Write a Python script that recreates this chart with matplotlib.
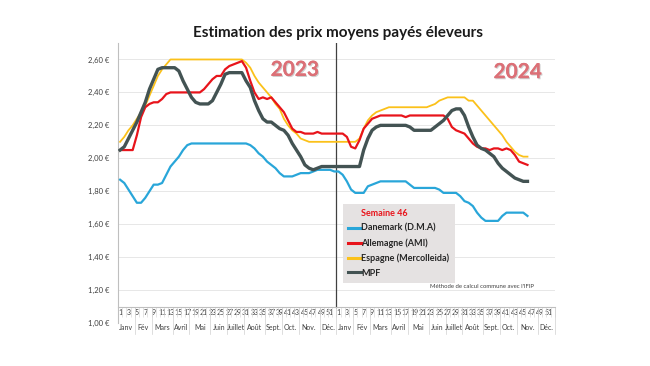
import numpy as np
import matplotlib
matplotlib.use('Agg')
import matplotlib.pyplot as plt
import matplotlib.patheffects as pe
from matplotlib.lines import Line2D

plt.rcParams['font.family'] = ['Lato', 'DejaVu Sans']

# prix hebdo (EUR/kg), 2023 complet puis 2024 jusqu'a la semaine 46
dk_2023 = [1.87, 1.85, 1.81, 1.77, 1.73, 1.73, 1.76, 1.80, 1.84, 1.84,
           1.85, 1.90, 1.95, 1.98, 2.01, 2.05, 2.08, 2.09, 2.09, 2.09,
           2.09, 2.09, 2.09, 2.09, 2.09, 2.09, 2.09, 2.09, 2.09, 2.09,
           2.09, 2.08, 2.06, 2.03, 2.01, 1.98, 1.96, 1.94, 1.91, 1.89,
           1.89, 1.89, 1.90, 1.91, 1.91, 1.91, 1.92, 1.93, 1.93, 1.93,
           1.93, 1.92]
dk_2024 = [1.92, 1.90, 1.86, 1.81, 1.79, 1.79, 1.79, 1.83, 1.84, 1.85,
           1.86, 1.86, 1.86, 1.86, 1.86, 1.86, 1.86, 1.84, 1.82, 1.82,
           1.82, 1.82, 1.82, 1.82, 1.81, 1.79, 1.79, 1.79, 1.79, 1.77,
           1.74, 1.73, 1.71, 1.67, 1.64, 1.62, 1.62, 1.62, 1.62, 1.65,
           1.67, 1.67, 1.67, 1.67, 1.67, 1.65]

de_2023 = [2.05, 2.05, 2.05, 2.05, 2.14, 2.25, 2.31, 2.33, 2.34, 2.34,
           2.36, 2.39, 2.40, 2.40, 2.40, 2.40, 2.40, 2.40, 2.40, 2.40,
           2.42, 2.45, 2.48, 2.50, 2.50, 2.54, 2.56, 2.57, 2.58, 2.59,
           2.55, 2.47, 2.40, 2.36, 2.37, 2.36, 2.37, 2.34, 2.31, 2.28,
           2.23, 2.18, 2.16, 2.16, 2.15, 2.15, 2.15, 2.16, 2.15, 2.15,
           2.15, 2.15]
de_2024 = [2.15, 2.15, 2.13, 2.07, 2.06, 2.11, 2.18, 2.21, 2.24, 2.25,
           2.26, 2.26, 2.26, 2.26, 2.26, 2.26, 2.25, 2.26, 2.26, 2.26,
           2.26, 2.26, 2.26, 2.26, 2.26, 2.26, 2.24, 2.19, 2.17, 2.16,
           2.15, 2.12, 2.09, 2.07, 2.06, 2.06, 2.05, 2.06, 2.06, 2.05,
           2.06, 2.05, 2.02, 1.98, 1.97, 1.96]

es_2023 = [2.10, 2.13, 2.17, 2.20, 2.24, 2.28, 2.32, 2.38, 2.44, 2.50,
           2.54, 2.57, 2.60, 2.60, 2.60, 2.60, 2.60, 2.60, 2.60, 2.60,
           2.60, 2.60, 2.60, 2.60, 2.60, 2.60, 2.60, 2.60, 2.60, 2.60,
           2.58, 2.55, 2.50, 2.46, 2.43, 2.40, 2.37, 2.33, 2.30, 2.24,
           2.20, 2.17, 2.15, 2.12, 2.11, 2.10, 2.10, 2.10, 2.10, 2.10,
           2.10, 2.10]
es_2024 = [2.10, 2.10, 2.10, 2.10, 2.10, 2.12, 2.18, 2.23, 2.26, 2.28,
           2.29, 2.30, 2.31, 2.31, 2.31, 2.31, 2.31, 2.31, 2.31, 2.31,
           2.31, 2.31, 2.32, 2.33, 2.35, 2.36, 2.37, 2.37, 2.37, 2.37,
           2.37, 2.35, 2.35, 2.32, 2.29, 2.26, 2.23, 2.20, 2.17, 2.14,
           2.10, 2.07, 2.04, 2.02, 2.01, 2.01]

mpf_2023 = [2.05, 2.07, 2.12, 2.17, 2.22, 2.28, 2.34, 2.42, 2.48, 2.54,
            2.55, 2.55, 2.55, 2.55, 2.53, 2.47, 2.42, 2.37, 2.34, 2.33,
            2.33, 2.33, 2.35, 2.40, 2.45, 2.51, 2.52, 2.52, 2.52, 2.52,
            2.47, 2.43, 2.35, 2.29, 2.24, 2.22, 2.22, 2.20, 2.18, 2.17,
            2.14, 2.09, 2.05, 2.01, 1.96, 1.94, 1.93, 1.94, 1.95, 1.95,
            1.95, 1.95]
mpf_2024 = [1.95, 1.95, 1.95, 1.95, 1.95, 1.95, 2.05, 2.12, 2.17, 2.19,
            2.20, 2.20, 2.20, 2.20, 2.20, 2.20, 2.20, 2.19, 2.17, 2.17,
            2.17, 2.17, 2.17, 2.19, 2.21, 2.23, 2.26, 2.29, 2.30, 2.30,
            2.26, 2.19, 2.13, 2.08, 2.06, 2.05, 2.03, 2.01, 1.97, 1.94,
            1.92, 1.90, 1.88, 1.87, 1.86, 1.86]

months = ['Janv', 'Fév', 'Mars', 'Avril', 'Mai', 'Juin', 'Juillet', 'Août',
          'Sept.', 'Oct.', 'Nov.', 'Déc.']
month_weeks = [4, 4, 5, 4, 5, 4, 4, 5, 4, 4, 5, 4]
week_labels = list(range(1, 52, 2))
n_weeks = 52

c_dk = '#29a6d9'
c_de = '#e8141b'
c_es = '#fbc11a'
c_mpf = '#435353'

dk = dk_2023 + dk_2024
de = de_2023 + de_2024
es = es_2023 + es_2024
mpf = mpf_2023 + mpf_2024

fig = plt.figure(figsize=(6.5, 3.66), dpi=100)
ax = fig.add_axes([0.1815, 0.1175, 0.672, 0.765])
ax.set_xlim(-0.5, 2 * n_weeks - 0.5)
ymin, ymax, yaxis_cross = 1.0, 2.7, 1.1
ax.set_ylim(ymin, ymax)

# axe des valeurs
yticks = np.arange(1.0, 2.61, 0.2)
ax.set_yticks(yticks)
ax.set_yticklabels([f'{v:.2f} €'.replace('.', ',') for v in yticks],
                   fontsize=5.5, color='#404040')
ax.tick_params(axis='y', length=0, pad=6)
ax.grid(axis='y', color='#e3e3e3', lw=0.6)
ax.get_ygridlines()[0].set_visible(False)
ax.set_axisbelow(True)

ax.spines[['top', 'right']].set_visible(False)
ax.spines['left'].set_color('#bfbfbf')
ax.spines['bottom'].set_position(('data', yaxis_cross))
ax.spines['bottom'].set_color('#bfbfbf')

# axe des semaines
pos = [w - 1 + y * n_weeks for y in range(2) for w in week_labels]
ax.set_xticks(pos)
ax.set_xticklabels([str(w) for y in range(2) for w in week_labels],
                   fontsize=5.0, color='#404040')
ax.tick_params(axis='x', which='major', length=0, pad=2)
ax.set_xticks(np.arange(-0.5, 2 * n_weeks, 1), minor=True)
ax.tick_params(axis='x', which='minor', length=7, color='#dadada', width=0.5)

# mois
bounds = np.concatenate([[0], np.cumsum(month_weeks)])
for y in range(2):
    for k, m in enumerate(months):
        a = bounds[k] + n_weeks * y - 0.5
        b = bounds[k + 1] + n_weeks * y - 0.5
        ax.text((a + b) / 2, 0.975, m, ha='center', va='center',
                fontsize=5.0, color='#404040', clip_on=False)
        ax.plot([b, b], [yaxis_cross, 0.935], color='#d0d0d0', lw=0.5,
                clip_on=False)

# separation 2023 / 2024
ax.axvline(n_weeks - 0.5, ymin=(yaxis_cross - ymin) / (ymax - ymin),
           color='#404040', lw=0.9)

ax.plot(np.arange(len(es)), es, color=c_es, lw=1.3, zorder=3)
ax.plot(np.arange(len(dk)), dk, color=c_dk, lw=1.6, zorder=3)
ax.plot(np.arange(len(de)), de, color=c_de, lw=1.6, zorder=4)
ax.plot(np.arange(len(mpf)), mpf, color=c_mpf, lw=2.4, zorder=5)

shadow = [pe.withSimplePatchShadow(offset=(0.8, -0.8), shadow_rgbFace='#888888',
                                   alpha=0.4), pe.Normal()]
ax.text(0.405, 0.904, '2023', transform=ax.transAxes, ha='center', va='center',
        fontsize=15, fontweight='bold', color='#dc7077', path_effects=shadow)
ax.text(0.915, 0.896, '2024', transform=ax.transAxes, ha='center', va='center',
        fontsize=15, fontweight='bold', color='#dc7077', path_effects=shadow)

handles = [Line2D([], [], color='none'),
           Line2D([], [], color=c_dk, lw=2.2),
           Line2D([], [], color=c_de, lw=2.2),
           Line2D([], [], color=c_es, lw=2.2),
           Line2D([], [], color=c_mpf, lw=2.2)]
labels = ['Semaine 46', 'Danemark (D.M.A)', 'Allemagne (AMI)',
          'Espagne (Mercolleida)', 'MPF']
leg = ax.legend(handles, labels, loc='lower left', bbox_to_anchor=(0.515, 0.143),
                frameon=True, facecolor='#e5e2e2', edgecolor='none',
                fancybox=False, framealpha=1, fontsize=6.5, handlelength=1.4,
                handletextpad=0.0, labelspacing=0.62, borderpad=0.6,
                borderaxespad=0)
for t in leg.get_texts():
    t.set_fontweight('bold')
    t.set_color('#262626')
leg.get_texts()[0].set_color(c_de)
leg.set_zorder(6)

ax.text(0.714, 0.132, "Méthode de calcul commune avec l'IFIP",
        transform=ax.transAxes, fontsize=4.3, color='#404040', va='center')

fig.text(0.52, 0.91, 'Estimation des prix moyens payés éleveurs',
         ha='center', va='center', fontsize=11, fontweight='bold',
         color='#1a1a1a')

fig.savefig('out.png', dpi=100)
